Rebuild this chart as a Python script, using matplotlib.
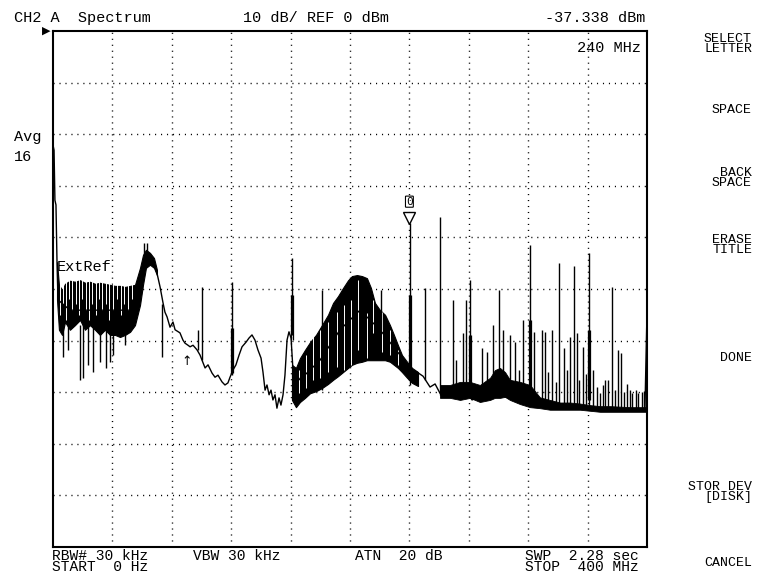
import numpy as np
import matplotlib
matplotlib.use("Agg")
import matplotlib.pyplot as plt
from matplotlib import transforms

# ---------------- data (frequency in MHz, level in dBm) ----------------
f_start, f_stop = 0, 400
ref_level, db_per_div = 0, 10

trace_f = [0, 0.7, 1.3, 2.0, 2.7, 3.4, 11.4, 31.6, 51.9, 58.6, 62.6, 65.3, 68.0, 70.0, 72.1, 74.1,
           75.4, 76.8, 78.8, 80.8, 82.2, 85.5, 87.5, 88.9, 90.9, 92.3, 94.3, 97.0, 99.0, 102.4, 104.4,
           107.1, 109.1, 111.1, 113.8, 115.8, 117.8, 119.2, 121.2, 123.2, 125.3, 127.3, 130.0, 132.0,
           134.0, 136.0, 138.0, 140.1, 141.4, 142.8, 144.1, 145.5, 146.8, 148.1, 149.5, 150.8, 152.2,
           153.5, 154.9, 156.2, 157.6, 158.9, 160.3, 161.6, 166.3, 179.8, 193.3, 206.7, 220.2, 233.7,
           240.4, 245.1, 249.2, 253.9, 257.3, 260.6, 264.0, 267.3, 270.7, 274.1, 278.8, 282.2, 286.2,
           290.9, 294.3, 299.0, 304.4, 311.1, 317.8, 324.6, 331.3, 338.0, 344.8, 351.5, 358.2, 365.0,
           371.7, 378.4, 385.2, 391.9, 398.6, 400.0]
trace_db = [-22.1, -23.1, -32.8, -33.7, -44.8, -52.1, -54.1, -54.1, -54.1, -50.2, -44.4, -44.0, -45.0,
            -46.9, -49.6, -52.7, -54.5, -55.4, -57.4, -56.4, -57.9, -58.5, -59.9, -60.5, -60.9, -61.2,
            -60.9, -61.8, -62.8, -65.3, -64.7, -66.3, -67.1, -66.7, -68.0, -68.6, -68.2, -67.1, -65.7,
            -64.7, -62.8, -61.2, -60.3, -59.5, -58.9, -59.9, -61.8, -63.4, -66.1, -69.6, -68.6, -70.5,
            -69.6, -71.5, -70.5, -73.1, -71.1, -72.5, -70.5, -66.7, -59.9, -58.3, -59.5, -65.7, -67.6,
            -63.8, -57.9, -54.1, -57.9, -62.8, -65.7, -66.1, -66.9, -69.0, -68.4, -70.2, -70.7, -70.0,
            -71.1, -70.3, -70.2, -71.5, -70.9, -71.5, -70.7, -70.2, -70.9, -71.5, -72.1, -72.5, -72.5,
            -72.7, -73.1, -72.9, -73.3, -73.4, -73.3, -73.6, -73.4, -73.6, -73.4, -54.5]

# dense low-frequency noise block (upper / lower envelope)
noise_f = [2.7, 4.0, 6.1, 8.1, 11.4, 14.8, 18.2, 21.5, 24.9, 28.3, 31.6, 35.0, 38.4, 41.8, 45.1,
           48.5, 51.9, 55.2, 58.6, 60.6, 62.6, 65.3, 68.0, 70.0]
noise_hi = [-44.8, -49.2, -50.2, -49.0, -48.4, -48.6, -48.3, -48.8, -48.6, -49.0, -48.8, -49.0, -49.2,
            -49.4, -49.4, -49.6, -49.4, -49.2, -45.9, -43.4, -42.4, -43.0, -44.0, -46.3]
noise_lo = [-52.1, -57.9, -58.9, -56.4, -57.9, -57.0, -56.0, -57.9, -57.0, -57.9, -58.9, -57.9, -58.9,
            -58.9, -59.3, -58.9, -58.3, -57.0, -53.1, -49.2, -45.9, -45.3, -45.9, -47.3]

# dense hump around 200 MHz
hump_f = [160.9, 163.6, 166.3, 169.7, 173.1, 177.1, 181.1, 185.2, 188.6, 191.9, 195.3, 198.7, 201.3,
          204.7, 208.1, 211.4, 214.1, 216.8, 220.2, 223.6, 226.9, 229.6, 232.3, 235.0, 238.4, 241.8, 245.8]
hump_hi = [-64.7, -65.3, -63.4, -61.8, -60.3, -58.9, -57.0, -55.0, -52.7, -51.4, -49.8, -48.3, -47.5,
           -47.3, -47.5, -47.9, -49.8, -52.7, -54.1, -55.0, -57.0, -58.9, -60.9, -62.8, -64.1, -65.3, -66.1]
hump_lo = [-71.5, -72.9, -71.9, -71.1, -70.2, -69.8, -69.2, -68.4, -67.6, -66.9, -66.1, -65.3, -64.7,
           -64.3, -64.1, -63.8, -63.8, -63.8, -63.8, -63.8, -64.1, -64.7, -65.3, -66.1, -67.2, -68.2, -68.8]

# dense noise floor band above 260 MHz
band_f = [260.6, 267.3, 274.1, 280.8, 287.5, 294.3, 297.6, 301.0, 304.4, 307.7, 314.5, 321.2, 327.9,
          334.7, 341.4, 348.2, 354.9, 361.6, 368.4, 375.1, 381.8, 388.5, 395.3, 399.3]
band_hi = [-68.6, -68.6, -68.0, -68.0, -68.6, -67.2, -65.7, -65.3, -66.1, -67.6, -68.0, -68.6, -71.0,
           -71.5, -72.0, -72.0, -72.2, -72.5, -72.7, -72.7, -72.8, -72.9, -72.9, -72.9]
band_lo = [-71.1, -71.1, -71.5, -71.1, -71.9, -71.5, -71.1, -71.1, -70.9, -71.5, -72.3, -72.9, -73.1,
           -73.4, -73.4, -73.4, -73.4, -73.6, -73.8, -73.8, -73.8, -73.8, -73.8, -73.8]

# narrow spurs (frequency, top level, foot level)
spike_f = [61.3, 63.3, 97.6, 100.3, 120.5, 160.9, 181.1, 220.9, 240.4, 250.5, 260.6, 269.4, 271.4,
           276.1, 278.1, 280.8, 288.9, 292.3, 296.3, 300.3, 303.0, 307.7, 311.1, 313.8, 316.5, 321.2,
           323.9, 329.3, 331.3, 333.3, 336.0, 338.7, 340.7, 344.1, 346.1, 348.2, 350.8, 352.9, 354.2,
           356.9, 358.9, 360.9, 363.6, 366.3, 368.4, 370.4, 371.7, 373.7, 376.4, 378.4, 380.5, 382.5,
           384.5, 386.5, 388.5, 389.9, 392.6, 393.9, 396.6, 397.9]
spike_top = [-41.1, -41.1, -57.9, -49.6, -48.6, -44.0, -50.2, -50.2, -37.3, -49.8, -36.0, -52.1, -63.8,
             -58.5, -52.1, -48.3, -61.4, -62.2, -57.0, -50.2, -57.9, -58.9, -60.3, -65.7, -56.0, -41.5,
             -58.3, -57.9, -58.3, -66.1, -57.9, -68.0, -45.0, -61.4, -65.7, -59.3, -45.5, -58.5, -67.6,
             -61.2, -66.5, -43.0, -65.7, -69.0, -70.2, -68.6, -67.6, -67.6, -49.6, -69.6, -61.8, -62.4,
             -70.0, -68.4, -69.6, -70.2, -69.6, -70.2, -70.0, -69.8]
spike_base = [-44.0, -44.8, -61.8, -63.8, -66.7, -58.9, -69.6, -57.9, -68.6, -67.6, -70.5, -70.5, -70.5,
              -70.5, -70.2, -70.5, -71.1, -71.1, -70.5, -70.2, -70.5, -71.1, -71.5, -71.5, -71.9, -72.5,
              -72.5, -72.5, -72.5, -72.6, -72.7, -72.7, -72.7, -72.9, -72.9, -72.9, -72.9, -72.9, -73.0,
              -73.1, -73.1, -73.1, -73.3, -73.3, -73.4, -73.4, -73.4, -73.4, -73.4, -73.5, -73.4, -73.4,
              -73.5, -73.5, -73.5, -73.6, -73.6, -73.6, -73.6, -73.6]

# downward dips inside the noise block
dip_f = [6.7, 10.1, 18.2, 20.2, 23.6, 26.9, 31.6, 35.7, 38.4, 40.4, 48.5, 73.4]
dip_top = [-57.0, -57.0, -57.0, -57.0, -57.0, -57.0, -58.0, -58.0, -58.0, -58.0, -58.0, -53.0]
dip_bot = [-63.2, -61.8, -67.6, -67.2, -64.7, -66.1, -64.1, -65.3, -64.1, -62.8, -60.9, -63.2]

# white gaps between the sweep strokes of the dense regions
gap_f = [4.7, 6.7, 8.8, 10.8, 12.8, 15.5, 17.5, 19.5, 22.2, 24.2, 26.3, 29.0, 31.0, 33.0, 35.7, 37.7,
         40.4, 43.1, 45.8, 47.8, 50.5, 53.2,
         165.7, 170.4, 175.1, 179.8, 185.2, 191.2, 196.0, 200.7, 205.4, 211.4, 215.5, 221.5, 226.9, 232.3]
gap_top = [-48.0, -48.0, -48.0, -48.0, -48.0, -48.0, -48.0, -48.0, -48.0, -48.0, -48.0, -48.0, -48.0,
           -48.0, -48.0, -48.0, -48.0, -48.0, -48.0, -48.0, -48.0, -48.0,
           -65.7, -62.8, -58.9, -57.9, -56.4, -54.5, -53.1, -52.1, -48.3, -54.7, -52.1, -54.5, -57.9, -61.8]
gap_bot = [-55.0, -53.0, -56.0, -52.0, -54.0, -53.0, -55.0, -52.0, -54.0, -56.0, -53.0, -55.0, -52.0,
           -54.0, -53.0, -56.0, -54.0, -52.0, -55.0, -53.0, -54.0, -52.0,
           -70.2, -69.2, -67.6, -67.2, -66.1, -65.1, -65.7, -64.7, -61.8, -63.4, -58.5, -62.2, -62.8, -64.7]

# wide (double-stroke) lower parts of the 40 MHz harmonics
wide_f = [120.5, 160.9, 240.4, 280.8, 321.2, 360.9]
wide_top = [-57.6, -51.2, -51.2, -58.9, -56.0, -57.9]
wide_bot = [-66.3, -59.9, -67.6, -69.6, -70.2, -71.5]

marker_f, marker_db = 240.0, -37.338

# ---------------- figure ----------------
W, H = 758, 579
fig = plt.figure(figsize=(W / 100, H / 100), dpi=100)
fig.patch.set_facecolor("white")
ax = fig.add_axes([53 / W, 1 - 547 / H, 594 / W, 516 / H])
ax.set_xlim(f_start, f_stop)
ax.set_ylim(ref_level - 10 * db_per_div, ref_level)
ax.set_xticks(np.linspace(f_start, f_stop, 11))
ax.set_yticks(np.arange(ref_level - 10 * db_per_div, ref_level + 1, db_per_div))
ax.tick_params(length=0, labelbottom=False, labelleft=False)
for s in ax.spines.values():
    s.set_linewidth(1.5)
    s.set_color("black")
    s.set_zorder(6)

dot = (0, (0.8, 3.5))
for xv in ax.get_xticks()[1:-1]:
    ax.axvline(xv, color="black", lw=1.0, ls=dot, zorder=1)
for yv in ax.get_yticks()[1:-1]:
    ax.axhline(yv, color="black", lw=1.0, ls=dot, zorder=1)

K = "black"
ax.fill_between(noise_f, noise_lo, noise_hi, color=K, lw=0.8, zorder=2)
ax.fill_between(hump_f, hump_lo, hump_hi, color=K, lw=0.8, zorder=2)
ax.fill_between(band_f, band_lo, band_hi, color=K, lw=0.6, zorder=2)
ax.vlines(gap_f, gap_bot, gap_top, color="white", lw=0.7, zorder=2.5)
ax.plot(trace_f, trace_db, color=K, lw=1.0, zorder=3)
ax.vlines(spike_f, spike_base, spike_top, color=K, lw=1.0, zorder=3)
ax.vlines(dip_f, dip_bot, dip_top, color=K, lw=1.0, zorder=3)
px = (f_stop - f_start) / 594.0
ax.vlines(np.array(wide_f) - px, wide_bot, wide_top, color=K, lw=0.9, zorder=3)
ax.vlines(np.array(wide_f) + px, wide_bot, wide_top, color=K, lw=0.9, zorder=3)

# marker
mk_tr = transforms.offset_copy(ax.transData, fig=fig, x=0, y=6, units="dots")
ax.plot([marker_f], [marker_db], marker="v", ms=9, mfc="white", mec="black", mew=1.0,
        transform=mk_tr, zorder=4, clip_on=False)
lbl_tr = transforms.offset_copy(ax.transData, fig=fig, x=0, y=22, units="dots")
ax.text(marker_f, marker_db, "0", transform=lbl_tr, ha="center", va="center",
        family="DejaVu Sans Mono", fontsize=8, zorder=4,
        bbox=dict(boxstyle="round,pad=0.05", fc="white", ec="black", lw=0.8))
ax.text(90.2, -64.0, "↑", ha="center", va="center", fontsize=9, family="DejaVu Sans", zorder=4)

MONO = "Liberation Mono"


def ftext(x, y, s, size=11, ha="left", ls=0.72):
    fig.text(x / W, 1 - y / H, s, ha=ha, va="center", family=MONO, fontsize=size,
             linespacing=ls, multialignment=ha)


ftext(14, 18, "CH2 A  Spectrum")
ftext(243, 18, "10 dB/ REF 0 dBm")
ftext(545, 18, "-37.338 dBm")
ftext(577, 48, "240 MHz")
ftext(14, 137, "Avg")
ftext(14, 157, "16")
ftext(57, 267, "ExtRef")
fig.text(46 / W, 1 - 31 / H, "▶", ha="center", va="center", family="DejaVu Sans", fontsize=8)

ftext(52, 561.5, "RBW# 30 kHz\nSTART  0 Hz", 10.5, ls=0.64)
ftext(193, 556, "VBW 30 kHz", 10.5)
ftext(355, 556, "ATN  20 dB", 10.5)
ftext(525, 561.5, "SWP  2.28 sec\nSTOP  400 MHz", 10.5, ls=0.64)

RX = 752
for y, s in [(44, "SELECT\nLETTER"), (110, "SPACE"), (178, "BACK\nSPACE"),
             (245, "ERASE\nTITLE"), (358, "DONE"), (492, "STOR DEV\n[DISK]"), (563, "CANCEL")]:
    ftext(RX, y, s, 9.5, ha="right")

fig.savefig("out.png", dpi=100)
